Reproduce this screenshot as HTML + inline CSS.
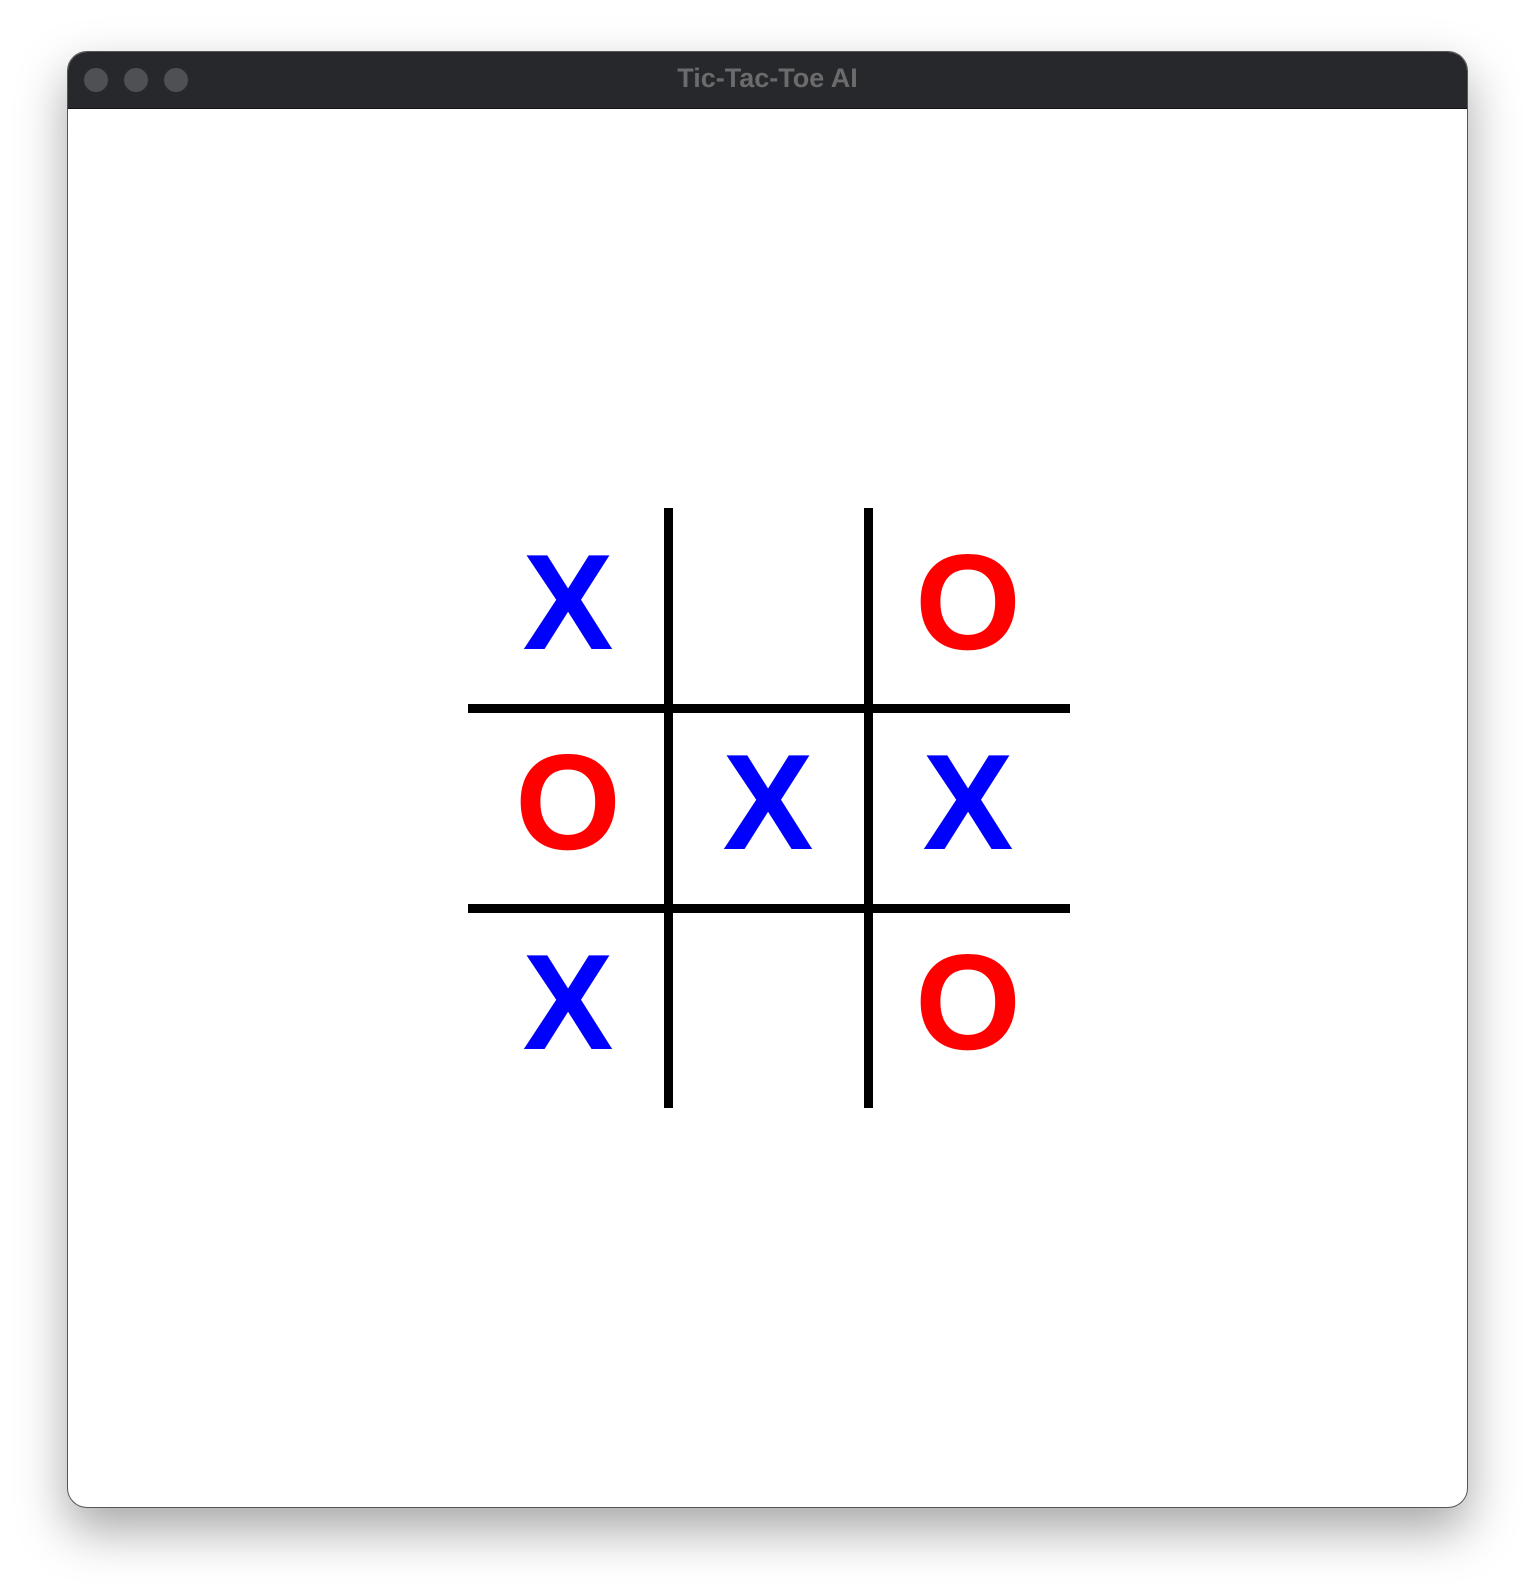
<!DOCTYPE html>
<html><head><meta charset="utf-8"><style>
html,body{margin:0;padding:0;background:#fff;}
body{width:1536px;height:1592px;position:relative;overflow:hidden;font-family:"Liberation Sans",Arial,sans-serif;}
#win{position:absolute;left:67px;top:51px;width:1401px;height:1457px;border-radius:20px;background:#fff;box-shadow:0 22px 50px rgba(0,0,0,0.35);overflow:hidden;border:1px solid #555;box-sizing:border-box;}
#bar{position:absolute;left:0;top:0;right:0;height:56px;background:#27282b;border-bottom:1px solid #111;}
.dot{position:absolute;top:16px;width:24px;height:24px;border-radius:50%;background:#4f5053;}
#title{position:absolute;left:0;right:0;top:11px;text-align:center;font-weight:bold;font-size:27px;color:#6b6b6d;}
svg{position:absolute;left:0;top:0;}
</style></head><body>
<div id="win">
<div id="bar">
<div class="dot" style="left:16px"></div>
<div class="dot" style="left:56px"></div>
<div class="dot" style="left:96px"></div>
<div id="title">Tic-Tac-Toe AI</div>
</div>
</div>
<svg id="board" width="1536" height="1592"></svg>
<script>
const board = [["X","","O"],["O","X","X"],["X","","O"]];
const NS="http://www.w3.org/2000/svg";
const svg=document.getElementById('board');
const gx=468, gy=508, cell=200;
function mk(t,a){const e=document.createElementNS(NS,t);for(const k in a)e.setAttribute(k,a[k]);svg.appendChild(e);return e;}
for(let i=1;i<3;i++){
  const v=mk('rect',{x:gx+i*cell-4,y:gy,width:9,height:3*cell,fill:'#000'});
  
  
  const h=mk('rect',{x:gx,y:gy+i*cell-4,width:3*cell+2,height:9,fill:'#000'});
  
  
}
board.forEach((row,r)=>row.forEach((m,c)=>{
  const cx=gx+c*cell+cell/2, cy=gy+r*cell+cell/2;
  const hit=mk('rect',{x:gx+c*cell,y:gy+r*cell,width:cell,height:cell,fill:'transparent'});
  
  
  if(!m)return;
  const t=mk('text',{x:cx,y:cy+41,'text-anchor':'middle','font-family':'Liberation Sans, Arial, sans-serif','font-weight':'bold','font-size':136,fill:m==='X'?'#0000ff':'#ff0000'});
  t.textContent=m;
  
  
}));
</script>
</body></html>
